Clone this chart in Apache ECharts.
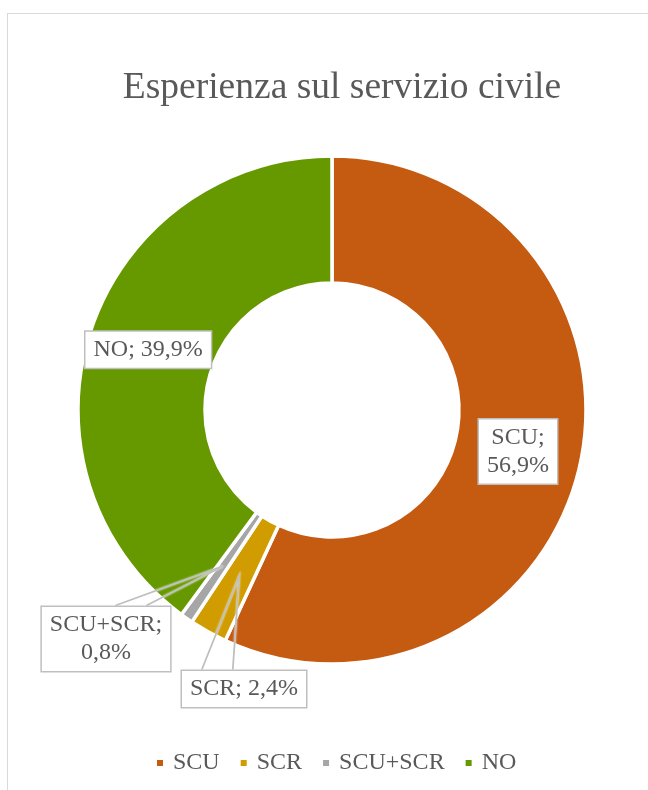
<!DOCTYPE html>
<html>
<head>
<meta charset="utf-8">
<script src="https://cdn.jsdelivr.net/npm/echarts@6/dist/echarts.min.js"></script>
<style>
html,body{margin:0;padding:0;background:#fff;}
#frame{position:absolute;left:7px;top:13px;width:720px;height:820px;border:1px solid #D9D9D9;box-sizing:border-box;}
#chart{position:absolute;left:0;top:0;width:648px;height:790px;}
</style>
</head>
<body>
<div id="frame"></div>
<div id="chart"></div>
<script>
const categories = ['SCU', 'SCR', 'SCU+SCR', 'NO'];
const values = [56.9, 2.4, 0.8, 39.9];
const colors = ['#C55A11', '#D09C00', '#A6A6A6', '#669900'];
const labelWrap = [true, false, true, false];
const labelInside = [true, false, false, true];
const titleText = 'Esperienza sul servizio civile';

const FONT = '"Liberation Serif", "Times New Roman", serif';
const CX = 332, CY = 410, R_IN = 127, R_OUT = 254;
// centres of the outside callout boxes and where the pointer meets the box (fraction of width)
const calloutPos = {1: [244, 689], 2: [106, 639]};
const calloutBase = {1: 0.29, 2: 0.69};
const BASE_W = 31;

const chart = echarts.init(document.getElementById('chart'));

function fmt(p) {
  const v = p.value.toFixed(1).replace('.', ',') + '%';
  return p.name + ';' + (labelWrap[p.dataIndex] ? '\n' : ' ') + v;
}

const labelStyle = {
  fontFamily: FONT,
  fontSize: 24,
  lineHeight: 28,
  color: '#595959',
  backgroundColor: '#ffffff',
  borderColor: '#BFBFBF',
  borderWidth: 1.5,
  padding: [4, 8],
  align: 'center',
  formatter: fmt
};

const mainData = categories.map((name, i) => ({
  name: name,
  value: values[i],
  itemStyle: { color: colors[i] },
  label: { show: labelInside[i], position: 'inside', offset: i === 0 ? [-3, 0] : [0, 0] }
}));

const calloutData = categories.map((name, i) => ({
  name: name,
  value: values[i],
  label: { show: !labelInside[i], position: 'outside' },
  labelLine: { show: !labelInside[i] }
}));

chart.setOption({
  animation: false,
  title: {
    text: titleText,
    left: 337,
    top: 64,
    textAlign: 'center',
    textStyle: { fontFamily: FONT, fontSize: 37.5, fontWeight: 'normal', color: '#595959' }
  },
  legend: {
    data: categories,
    left: 150,
    top: 746,
    icon: 'rect',
    itemWidth: 8,
    itemHeight: 8,
    itemGap: 19,
    textStyle: { fontFamily: FONT, fontSize: 24, color: '#595959', padding: [0, 0, 0, 4] }
  },
  series: [{
    type: 'pie',
    z: 2,
    center: [CX, CY],
    radius: [R_IN, R_OUT],
    startAngle: 90,
    clockwise: true,
    avoidLabelOverlap: false,
    itemStyle: { borderColor: '#ffffff', borderWidth: 3.5 },
    label: Object.assign({ show: true }, labelStyle),
    labelLine: { show: false },
    emphasis: { disabled: true },
    data: mainData
  }, {
    type: 'pie',
    z: 5,
    center: [CX, CY],
    radius: [R_IN, R_OUT],
    startAngle: 90,
    clockwise: true,
    silent: true,
    legendHoverLink: false,
    avoidLabelOverlap: false,
    itemStyle: { color: 'rgba(0,0,0,0)', borderWidth: 0 },
    label: Object.assign({ show: false }, labelStyle),
    labelLine: {
      show: false,
      length: 20,
      length2: 10,
      lineStyle: { color: '#BFBFBF', width: 1.8, shadowColor: 'rgba(255,255,255,0.9)', shadowBlur: 2 }
    },
    emphasis: { disabled: true },
    labelLayout: function (params) {
      const pos = calloutPos[params.dataIndex];
      if (!pos) return {};
      const res = { x: pos[0], y: pos[1], align: 'center', verticalAlign: 'middle' };
      const pts = params.labelLinePoints;
      if (pts && pts.length) {
        const p0 = pts[0];
        const k = ((R_IN + R_OUT) / 2) / R_OUT;
        const tip = [CX + (p0[0] - CX) * k, CY + (p0[1] - CY) * k];
        const w = params.labelRect.width, h = params.labelRect.height;
        const top = pos[1] - h / 2;
        const bc = pos[0] - w / 2 + w * calloutBase[params.dataIndex];
        res.labelLinePoints = [[bc - BASE_W / 2, top], tip, [bc + BASE_W / 2, top]];
      }
      return res;
    },
    data: calloutData
  }]
});
</script>
</body>
</html>
